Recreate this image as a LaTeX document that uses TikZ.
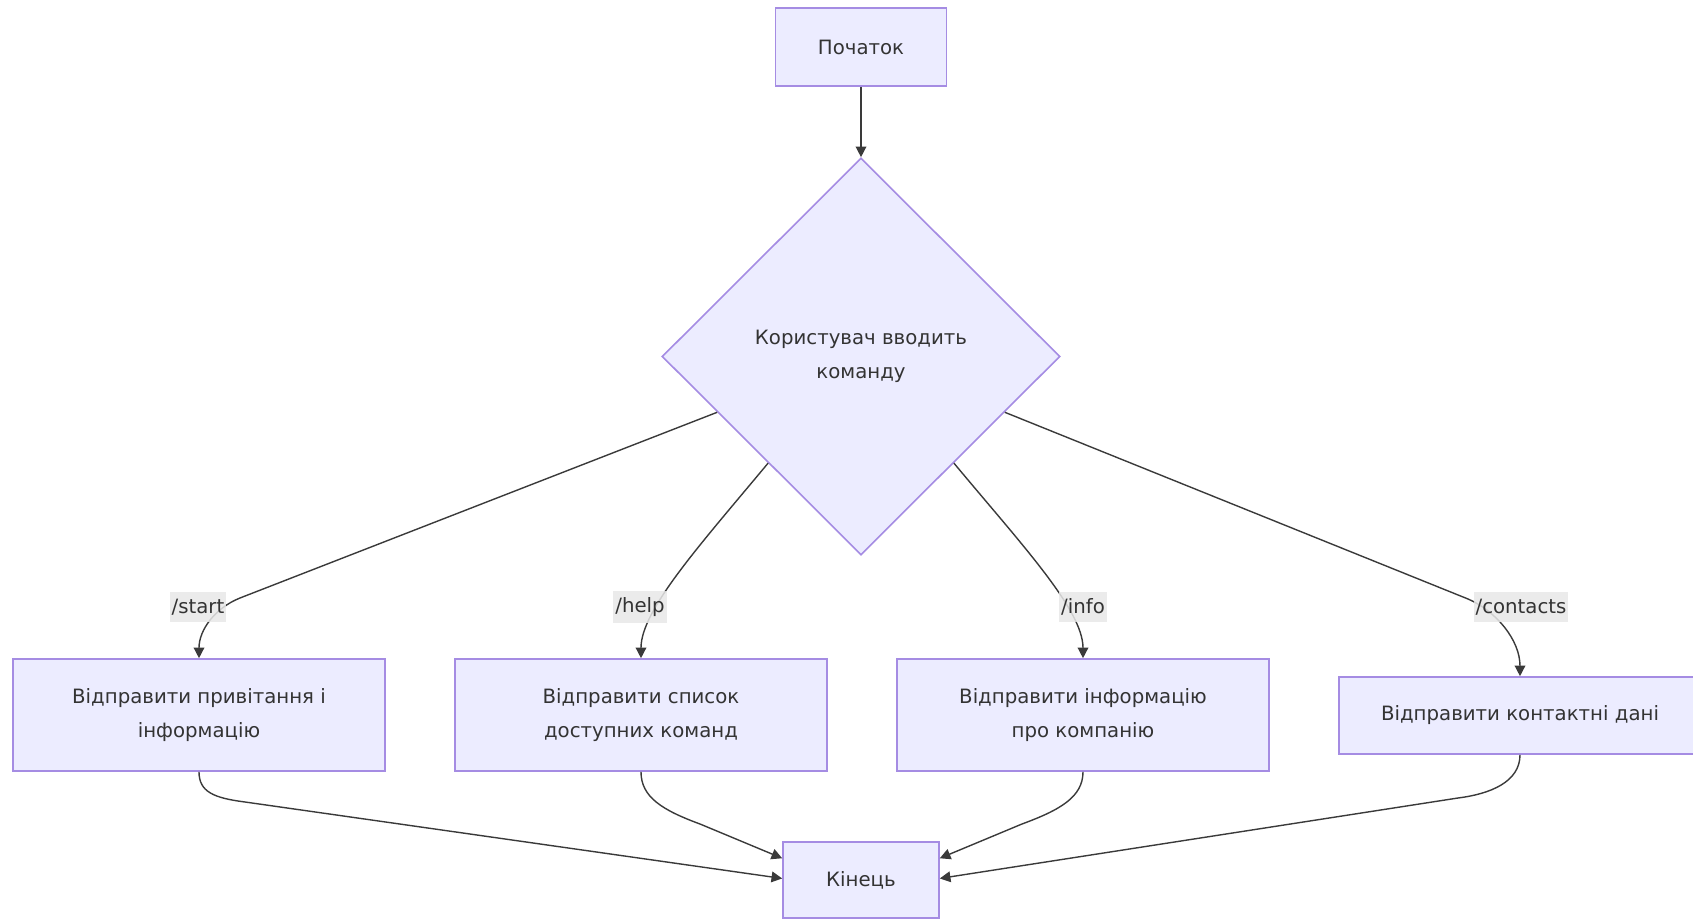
\documentclass[tikz,border=0pt]{standalone}
\usepackage{fontspec}
\setmainfont{DejaVu Sans}
\usetikzlibrary{arrows.meta,shapes.geometric,calc}
\definecolor{boxfill}{HTML}{ECECFF}
\definecolor{boxline}{HTML}{A58CE3}
\definecolor{edgecol}{HTML}{3A3A3A}
\definecolor{lblbg}{HTML}{E8E8E8}
\definecolor{txtcol}{HTML}{333333}
\newcommand{\flowfont}{\fontsize{14.8}{25}\selectfont}
\begin{document}
\begin{tikzpicture}[x=0.75pt,y=-0.75pt,
  proc/.style={draw=boxline, fill=boxfill, line width=1.2pt, rectangle,
    align=center, inner sep=0pt, text=txtcol, font=\flowfont},
  decision/.style={draw=boxline, fill=boxfill, line width=1.2pt, diamond,
    align=center, inner sep=0pt, text=txtcol, font=\flowfont,
    minimum width=298.5pt, minimum height=297.75pt},
  flow/.style={draw=edgecol, line width=1.05pt,
    -{Triangle[length=8pt,width=8pt]}},
  lbl/.style={fill=lblbg, fill opacity=0.85, text opacity=1, text=txtcol,
    font=\flowfont, inner xsep=1.5pt, inner ysep=5pt}]
\useasboundingbox (0,0) rectangle (1693,919);

% nodes
\node[proc, minimum width=128pt, minimum height=58.5pt] (start) at (861,47) {Початок};
\node[decision] (cmd) at (861,356.5) {Користувач вводить\\команду};
\node[proc, minimum width=279pt, minimum height=84pt] (greet) at (199,715) {Відправити привітання і\\інформацію};
\node[proc, minimum width=279pt, minimum height=84pt] (help) at (641,715) {Відправити список\\доступних команд};
\node[proc, minimum width=279pt, minimum height=84pt] (info) at (1083,715) {Відправити інформацію\\про компанію};
\node[proc, minimum width=271.5pt, minimum height=57.75pt] (cont) at (1520,715.5) {Відправити контактні дані};
\node[proc, minimum width=117pt, minimum height=57pt] (fin) at (861,880) {Кінець};

% exit points on the lower sides of the decision
\coordinate (c1) at ($(cmd.west)!0.28!(cmd.south)$);
\coordinate (c2) at ($(cmd.west)!0.535!(cmd.south)$);
\coordinate (c3) at ($(cmd.east)!0.535!(cmd.south)$);
\coordinate (c4) at ($(cmd.east)!0.28!(cmd.south)$);

% connectors
\draw[flow] (start) -- (cmd);
\draw[flow] (c1) -- (240,598) .. controls (215,608) and (199,630) .. (greet.north);
\draw[flow] (c2) .. controls (700,545) and (641,610) .. (help.north);
\draw[flow] (c3) .. controls (1022,545) and (1083,610) .. (info.north);
\draw[flow] (c4) -- (1468,599) .. controls (1496,611) and (1520,640) .. (cont.north);

\draw[flow] (greet.south) .. controls (199,792) and (214,798) .. (245,802) -- ($(fin.south west)!0.52!(fin.north west)$);
\draw[flow] (help.south) .. controls (641,797) and (662,810) .. (700,824) -- ($(fin.south west)!0.78!(fin.north west)$);
\draw[flow] (info.south) .. controls (1083,797) and (1060,810) .. (1022,824) -- ($(fin.south east)!0.78!(fin.north east)$);
\draw[flow] (cont.south) .. controls (1520,782) and (1490,794) .. (1458,798) -- ($(fin.south east)!0.52!(fin.north east)$);

% edge labels
\node[lbl] (l1) at (198,607) {/start};
\node[lbl] (l2) at (640,607) {/help};
\node[lbl] (l3) at (1083,607) {/info};
\node[lbl] (l4) at (1521,607) {/contacts};
\end{tikzpicture}
\end{document}
